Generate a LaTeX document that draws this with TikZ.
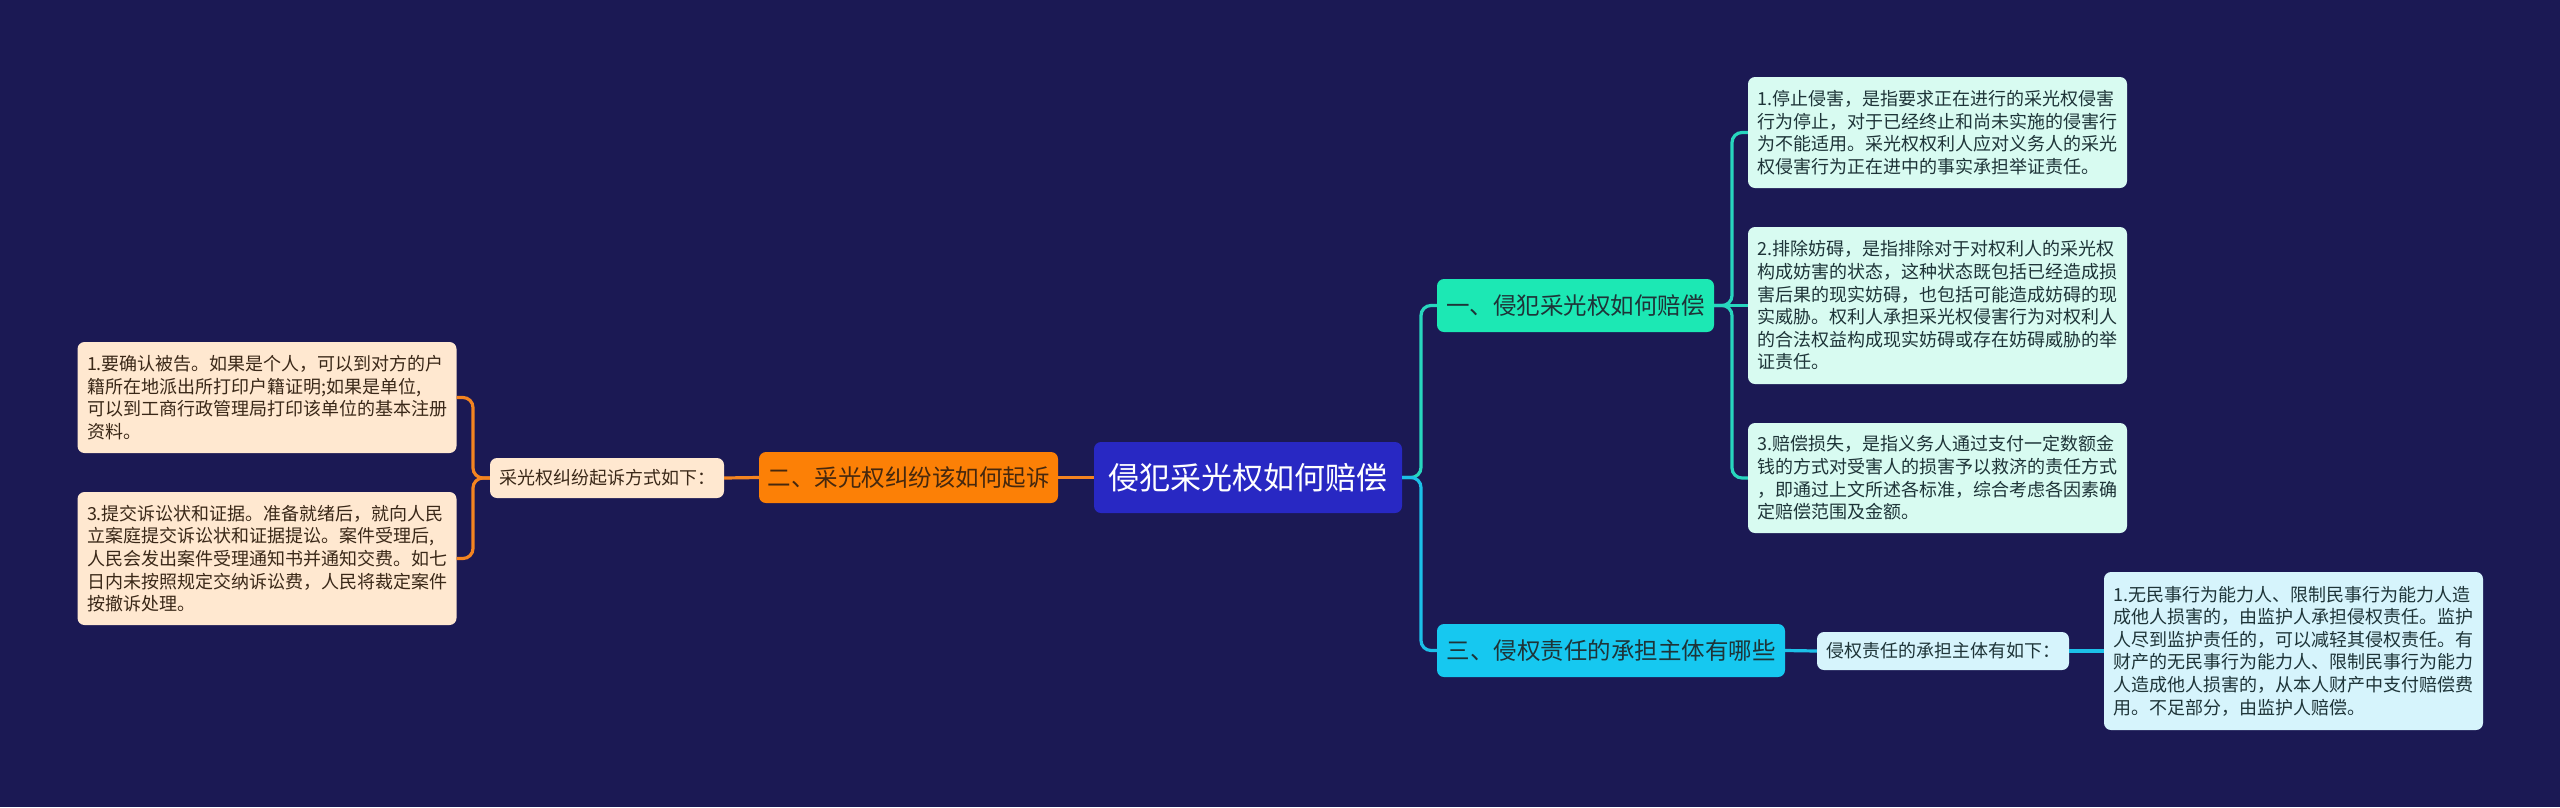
\documentclass[tikz,border=0pt]{standalone}
\usepackage{fontspec}
\setmainfont{Noto Sans CJK SC}
\definecolor{bg}{RGB}{27,25,84}
\definecolor{rootfill}{RGB}{40,40,195}
\definecolor{orangefill}{RGB}{252,128,6}
\definecolor{orangeline}{RGB}{244,132,32}
\definecolor{peach}{RGB}{255,232,208}
\definecolor{peachtext}{RGB}{58,40,24}
\definecolor{tealfill}{RGB}{28,232,180}
\definecolor{tealline}{RGB}{40,214,190}
\definecolor{mint}{RGB}{216,251,241}
\definecolor{cyanfill}{RGB}{22,200,240}
\definecolor{cyanline}{RGB}{28,192,232}
\definecolor{lightcyan}{RGB}{214,244,252}
\definecolor{darktext}{RGB}{30,52,56}
\definecolor{browntext}{RGB}{70,40,14}
\begin{document}
\begin{tikzpicture}[x=1pt,y=-1pt,
  box/.style={rounded corners=7pt, inner sep=0pt, align=center},
  leaf/.style={rounded corners=7pt, inner xsep=9.5pt, inner ysep=0pt, text width=360pt, align=left,
    font=\fontsize{18pt}{22.6pt}\selectfont},
  link/.style={line width=3.2pt, rounded corners=10pt},
  midfont/.style={font=\fontsize{23.5pt}{28pt}\selectfont},
  smallfont/.style={font=\fontsize{18pt}{22pt}\selectfont}
]
\useasboundingbox (0,0) rectangle (2560,807);
\fill[bg] (0,0) rectangle (2560,807);

% centre
\node[box, fill=rootfill, text=white, minimum width=308pt, minimum height=71pt,
  font=\fontsize{31pt}{37pt}\selectfont] (root) at (1248,477.5) {侵犯采光权如何赔偿};

% right branch 1
\node[box, fill=tealfill, text=darktext, midfont, minimum width=277pt, minimum height=53pt] (n1) at (1575.5,305.5) {一、侵犯采光权如何赔偿};
\node[leaf, fill=mint, text=darktext, minimum height=111pt] (r1) at (1937.5,132.5) {1.停止侵害，是指要求正在进行的采光权侵害\\行为停止，对于已经终止和尚未实施的侵害行\\为不能适用。采光权权利人应对义务人的采光\\权侵害行为正在进中的事实承担举证责任。};
\node[leaf, fill=mint, text=darktext, minimum height=157pt] (r2) at (1937.5,305.5) {2.排除妨碍，是指排除对于对权利人的采光权\\构成妨害的状态，这种状态既包括已经造成损\\害后果的现实妨碍，也包括可能造成妨碍的现\\实威胁。权利人承担采光权侵害行为对权利人\\的合法权益构成现实妨碍或存在妨碍威胁的举\\证责任。};
\node[leaf, fill=mint, text=darktext, minimum height=110pt] (r3) at (1937.5,478) {3.赔偿损失，是指义务人通过支付一定数额金\\钱的方式对受害人的损害予以救济的责任方式\\，即通过上文所述各标准，综合考虑各因素确\\定赔偿范围及金额。};

% right branch 3
\node[box, fill=cyanfill, text=darktext, midfont, minimum width=348pt, minimum height=53pt] (n3) at (1611,650.5) {三、侵权责任的承担主体有哪些};
\node[box, fill=lightcyan, text=darktext, smallfont, minimum width=252pt, minimum height=38pt] (q) at (1943,651) {侵权责任的承担主体有如下：};
\node[leaf, fill=lightcyan, text=darktext, minimum height=158pt] (r4) at (2293.5,651) {1.无民事行为能力人、限制民事行为能力人造\\成他人损害的，由监护人承担侵权责任。监护\\人尽到监护责任的，可以减轻其侵权责任。有\\财产的无民事行为能力人、限制民事行为能力\\人造成他人损害的，从本人财产中支付赔偿费\\用。不足部分，由监护人赔偿。};

% left branch
\node[box, fill=orangefill, text=browntext, midfont, minimum width=299pt, minimum height=51pt] (n2) at (908.5,477.5) {二、采光权纠纷该如何起诉};
\node[box, fill=peach, text=peachtext, smallfont, minimum width=234pt, minimum height=40pt] (s) at (607,478) {采光权纠纷起诉方式如下：};
\node[leaf, fill=peach, text=peachtext, minimum height=111pt] (la) at (267,397.5) {1.要确认被告。如果是个人，可以到对方的户\\籍所在地派出所打印户籍证明;如果是单位,\\可以到工商行政管理局打印该单位的基本注册\\资料。};
\node[leaf, fill=peach, text=peachtext, minimum height=133pt] (lb) at (267,558.5) {3.提交诉讼状和证据。准备就绪后，就向人民\\立案庭提交诉讼状和证据提讼。案件受理后,\\人民会发出案件受理通知书并通知交费。如七\\日内未按照规定交纳诉讼费，人民将裁定案件\\按撤诉处理。};

% connectors
\coordinate (rj) at (1421,477.5);
\coordinate (tj) at (1732,305.5);
\coordinate (lj) at (473,478);
\draw[link, tealline] (root.east) -- (rj) -- (rj |- n1.west) -- (n1.west);
\draw[link, cyanline] (root.east) -- (rj) -- (rj |- n3.west) -- (n3.west);
\draw[link, tealline] (n1.east) -- (tj) -- (tj |- r1.west) -- (r1.west);
\draw[link, tealline] (n1.east) -- (r2.west);
\draw[link, tealline] (n1.east) -- (tj) -- (tj |- r3.west) -- (r3.west);
\draw[link, cyanline] (n3.east) -- (q.west);
\draw[link, cyanline] (q.east) -- (r4.west);
\draw[link, orangeline] (root.west) -- (n2.east);
\draw[link, orangeline] (n2.west) -- (s.east);
\draw[link, orangeline] (s.west) -- (lj) -- (lj |- la.east) -- (la.east);
\draw[link, orangeline] (s.west) -- (lj) -- (lj |- lb.east) -- (lb.east);
\end{tikzpicture}
\end{document}
